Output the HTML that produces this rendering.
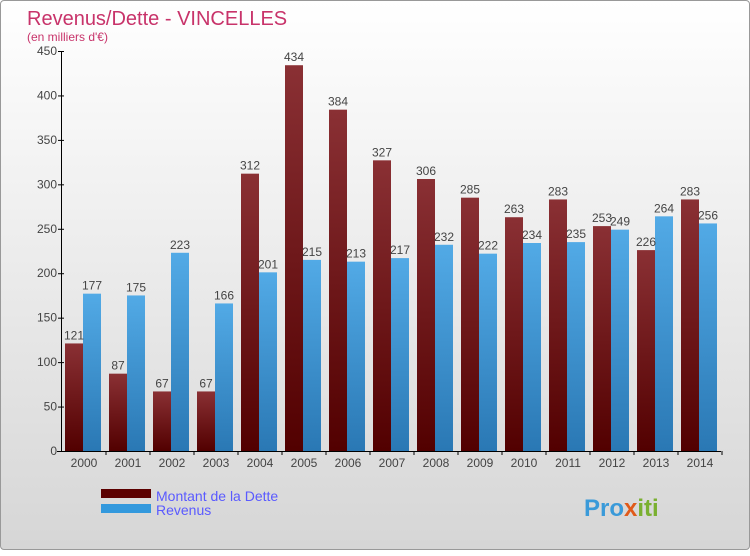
<!DOCTYPE html>
<html><head><meta charset="utf-8"><style>
body{margin:0;width:750px;height:550px;overflow:hidden;font-family:"Liberation Sans",sans-serif}
#c{position:absolute;left:0;top:0;width:748px;height:548px;border:1px solid #999;border-radius:4px;background:linear-gradient(#ffffff,#d6d6d6)}
</style></head><body>
<div id="c">
<svg id="s" width="750" height="550">
<defs>
<linearGradient id="gd" x1="0" y1="0" x2="0" y2="1"><stop offset="0" stop-color="#8a3034"/><stop offset="1" stop-color="#520000"/></linearGradient>
<linearGradient id="gr" x1="0" y1="0" x2="0" y2="1"><stop offset="0" stop-color="#52aae6"/><stop offset="1" stop-color="#2a78b4"/></linearGradient>
</defs>
<text x="26" y="24" font-size="20" fill="#c8336a">Revenus/Dette - VINCELLES</text>
<text x="26" y="40" font-size="12" fill="#c8336a">(en milliers d'€)</text>
<g id="bars"></g>
<g id="axes"></g>
<rect x="100" y="488" width="50" height="9" fill="#5c0000"/>
<text x="155" y="500" font-size="14" fill="#5a5aff">Montant de la Dette</text>
<rect x="100" y="503" width="50" height="9" fill="#3399dd"/>
<text x="155" y="514" font-size="14" fill="#5a5aff">Revenus</text>
<text x="583" y="515" font-size="24" font-weight="bold" fill="#3a9ad9">Pro<tspan fill="#e05a1a">x</tspan><tspan fill="#7ab030">iti</tspan></text>
</svg></div>
<script>
const years=["2000","2001","2002","2003","2004","2005","2006","2007","2008","2009","2010","2011","2012","2013","2014"];
const dette=[121,87,67,67,312,434,384,327,306,285,263,283,253,226,283];
const revenus=[177,175,223,166,201,215,213,217,232,222,234,235,249,264,256];
const ticks=[0,50,100,150,200,250,300,350,400,450];
const NS="http://www.w3.org/2000/svg";
const y0=450,ymax=450,ph=400,x0=61,gw=44;
const yS=v=>y0-v/ymax*ph;
const xS=i=>x0+i*gw;
function mk(t,a,p){const e=document.createElementNS(NS,t);for(const k in a)e.setAttribute(k,a[k]);p.appendChild(e);return e;}
const B=document.getElementById('bars'),A=document.getElementById('axes');
years.forEach((yr,i)=>{
 const x=xS(i);
 const r1=mk('rect',{x:x+3,y:yS(dette[i]),width:18,height:y0-yS(dette[i]),fill:'url(#gd)'},B);
 
 
 const r2=mk('rect',{x:x+21,y:yS(revenus[i]),width:18,height:y0-yS(revenus[i]),fill:'url(#gr)'},B);
 
 
 const t1=mk('text',{x:x+12,y:yS(dette[i])-4,'font-size':12,fill:'#444','text-anchor':'middle'},B);t1.textContent=dette[i];
 
 
 const t2=mk('text',{x:x+30,y:yS(revenus[i])-4,'font-size':12,fill:'#444','text-anchor':'middle'},B);t2.textContent=revenus[i];
 
 
 const xl=mk('text',{x:x+22,y:y0+16,'font-size':12,fill:'#444','text-anchor':'middle'},A);xl.textContent=yr;
 
 
 mk('line',{x1:x+gw,x2:x+gw,y1:y0,y2:y0+4,stroke:'#000'},A);
});
mk('line',{x1:60.5,x2:60.5,y1:50,y2:y0,stroke:'#000'},A);
mk('line',{x1:56,x2:720,y1:y0+.5,y2:y0+.5,stroke:'#000'},A);
ticks.forEach(v=>{
 mk('line',{x1:57,x2:63,y1:yS(v)+.5,y2:yS(v)+.5,stroke:'#000'},A);
 const t=mk('text',{x:56,y:yS(v)+4,'font-size':12,fill:'#444','text-anchor':'end'},A);t.textContent=v;
 
 
});
</script>
</body></html>
